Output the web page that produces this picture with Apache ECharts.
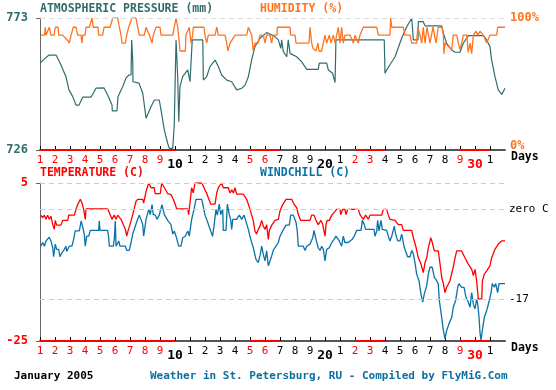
<!DOCTYPE html>
<html><head><meta charset="utf-8">
<script src="https://cdn.jsdelivr.net/npm/echarts@6/dist/echarts.min.js"></script>
<style>html,body{margin:0;padding:0;background:#fff}#c{width:556px;height:390px}</style>
</head><body><div id="c"></div>
<script>
// ---- data ----
const dayLabels = ['1','2','3','4','5','6','7','8','9','10','1','2','3','4','5','6','7','8','9','20','1','2','3','4','5','6','7','8','9','30','1'];
const holidays = [1,2,3,4,5,6,7,8,9,15,16,22,23,29,30];
const pressureRange = [726, 773];
const humidityRange = [0, 100];
const tempRange = [-25, 5];
const tempRefLines = [5, 0, -17];

const pressure = [[1.05,757.1],[1.2,758.0],[1.6,759.8],[2.07,759.8],[2.2,759.1],[2.4,756.3],[2.73,752.1],[2.93,747.4],[3.18,745.0],[3.4,742.0],[3.6,742.0],[3.85,744.8],[4.4,744.8],[4.73,748.0],[5.27,748.1],[5.51,745.6],[5.8,742.0],[5.82,739.9],[6.13,739.9],[6.2,745.0],[6.51,748.5],[6.73,751.6],[6.93,752.7],[7.07,752.7],[7.11,765.2],[7.18,758.0],[7.2,750.3],[7.6,749.8],[7.85,746.2],[8.07,737.3],[8.4,741.4],[8.62,743.8],[8.95,743.8],[9.07,740.2],[9.29,733.1],[9.51,728.4],[9.62,726.6],[9.85,726.6],[9.95,734.9],[10.07,765.2],[10.18,752.1],[10.25,736.1],[10.33,748.5],[10.51,752.1],[10.85,754.5],[11.0,750.3],[11.15,765.2],[11.85,765.2],[11.89,750.9],[12.11,752.1],[12.33,755.7],[12.67,758.0],[12.89,755.7],[13.11,752.7],[13.45,750.9],[13.78,750.3],[14.11,747.4],[14.45,748.0],[14.67,749.1],[14.89,752.1],[15.11,758.0],[15.33,762.8],[15.67,765.8],[16.11,767.8],[16.33,767.3],[16.67,766.3],[16.89,765.2],[17.05,762.2],[17.11,765.2],[17.22,761.0],[17.45,759.2],[17.55,765.2],[17.67,760.4],[18.11,759.2],[18.45,757.4],[18.78,754.7],[19.55,754.7],[19.62,756.9],[20.11,756.9],[20.22,754.5],[20.51,753.3],[20.67,750.0],[20.73,765.2],[23.95,765.2],[24.0,753.3],[24.11,754.5],[24.67,759.2],[25.11,765.8],[25.45,769.9],[25.78,772.9],[25.89,765.2],[26.2,765.2],[26.22,771.7],[26.55,771.7],[26.67,770.2],[27.78,770.2],[27.89,767.6],[28.11,764.0],[28.45,761.6],[28.67,760.8],[29.0,760.8],[29.22,764.0],[29.55,766.7],[30.55,766.7],[30.78,765.2],[31.0,762.8],[31.11,758.0],[31.33,752.1],[31.55,747.4],[31.78,745.8],[32.0,748.0]];

const humidity = [[1.05,87],[1.3,87],[1.35,93],[1.4,87],[1.62,93],[1.73,87],[1.93,87],[2.02,93],[2.2,93],[2.25,87],[2.51,87],[2.85,83],[2.95,81],[3.07,87],[3.22,93],[3.4,93],[3.51,87],[3.73,87],[3.8,81],[3.85,87],[4.0,87],[4.07,93],[4.29,93],[4.47,100],[4.55,93],[4.87,93],[4.91,87],[5.18,87],[5.27,93],[5.67,93],[5.85,100],[6.18,100],[6.29,93],[6.4,87],[6.47,81],[6.69,81],[6.78,87],[6.91,93],[7.13,100],[7.4,100],[7.51,93],[7.62,87],[7.95,87],[8.07,93],[8.29,87],[8.47,81],[8.55,87],[8.73,93],[9.0,93],[9.07,87],[9.85,87],[9.95,93],[10.07,100],[10.18,93],[10.29,81],[10.33,75],[10.69,75],[10.73,87],[10.95,93],[11.07,81],[11.18,87],[11.22,93],[11.93,93],[12.0,87],[12.11,81],[12.22,87],[12.67,87],[12.78,93],[12.89,87],[13.33,87],[13.45,81],[13.53,75],[13.67,81],[14.0,87],[14.78,87],[14.89,93],[15.11,87],[15.22,75],[15.33,81],[15.53,81],[15.67,87],[15.89,87],[16.0,81],[16.11,87],[16.33,87],[16.44,81],[16.55,87],[16.8,87],[16.82,93],[17.67,93],[17.71,87],[18.0,87],[18.07,81],[18.93,81],[19.0,93],[19.11,81],[19.2,77],[19.4,75],[19.53,81],[19.6,75],[19.78,75],[19.89,81],[20.0,87],[20.11,81],[20.29,87],[20.4,81],[20.55,87],[20.67,81],[20.78,87],[20.89,93],[21.0,81],[21.11,93],[21.22,81],[21.33,87],[21.67,87],[21.89,81],[22.0,87],[22.22,81],[22.33,87],[22.55,93],[23.45,93],[23.55,87],[24.33,87],[24.38,100],[24.45,93],[25.22,93],[25.33,87],[25.67,87],[25.78,81],[26.11,81],[26.18,93],[26.33,87],[26.45,81],[26.55,93],[26.67,81],[26.8,93],[27.0,81],[27.2,93],[27.4,81],[27.55,93],[27.8,93],[27.89,87],[27.93,73],[28.0,81],[28.11,81],[28.45,76],[28.55,87],[28.78,87],[28.89,81],[29.0,76],[29.11,81],[29.22,87],[29.45,87],[29.55,74],[29.67,81],[29.78,73],[29.89,87],[30.07,90],[30.2,87],[30.33,90],[30.55,87],[30.78,81],[31.0,87],[31.45,87],[31.51,93],[32.0,93]];

const temperature = [[1.05,-1.1],[1.18,-1.6],[1.29,-1.1],[1.4,-1.9],[1.51,-1.1],[1.62,-1.9],[1.73,-1.3],[1.85,-2.9],[1.95,-3.8],[2.02,-2.1],[2.11,-3.0],[2.4,-3.0],[2.51,-2.1],[2.85,-2.1],[2.91,-1.1],[3.29,-1.1],[3.4,0.0],[3.51,0.9],[3.69,1.9],[3.8,1.2],[3.91,0.0],[4.02,-1.9],[4.07,0.1],[5.51,0.1],[5.67,-1.0],[5.8,-1.9],[5.95,-1.1],[6.07,-1.9],[6.18,-1.1],[6.29,-1.1],[6.4,-1.9],[6.55,-2.9],[6.69,-3.8],[6.78,-5.1],[6.87,-4.1],[7.0,-2.9],[7.18,-1.0],[7.4,1.5],[7.51,1.9],[7.85,1.9],[7.91,1.2],[8.07,3.4],[8.25,5.0],[8.4,4.1],[8.62,4.1],[8.67,3.0],[9.02,3.0],[9.11,5.0],[9.29,4.1],[9.51,3.0],[9.73,2.8],[9.89,1.9],[10.02,0.9],[10.11,0.1],[10.85,0.1],[10.91,-1.0],[11.03,2.0],[11.11,4.1],[11.22,3.1],[11.33,5.0],[11.78,5.0],[11.89,4.4],[12.0,3.7],[12.11,3.1],[12.22,2.2],[12.38,1.0],[12.67,1.0],[12.78,3.1],[12.89,4.1],[13.11,5.0],[13.22,4.1],[13.55,4.1],[13.67,3.1],[13.78,3.7],[13.89,3.1],[14.0,4.1],[14.11,2.9],[14.55,2.9],[14.78,1.9],[15.0,0.0],[15.22,-2.2],[15.33,-4.1],[15.44,-4.7],[15.55,-3.8],[15.67,-3.2],[15.78,-2.1],[15.89,-3.2],[16.0,-3.8],[16.11,-2.9],[16.22,-5.7],[16.29,-4.0],[16.45,-3.0],[16.67,-2.1],[16.89,-1.9],[17.0,-0.3],[17.18,0.9],[17.4,1.9],[17.78,1.9],[17.93,1.0],[18.11,0.3],[18.22,-1.0],[18.38,-2.1],[19.0,-2.1],[19.11,-1.1],[19.27,-1.1],[19.4,-2.1],[19.55,-2.9],[19.73,-2.1],[19.85,-2.9],[20.0,-5.1],[20.07,-2.9],[20.15,-2.1],[20.29,-2.1],[20.45,-1.1],[20.78,0.0],[21.0,0.0],[21.05,-1.0],[21.18,0.0],[21.33,0.0],[21.4,-1.0],[21.51,0.0],[22.22,0.0],[22.33,-1.0],[22.55,-1.9],[22.71,-1.1],[22.89,-1.9],[23.0,-1.1],[23.78,-1.1],[23.89,0.0],[24.11,0.0],[24.22,-1.1],[24.33,-1.9],[24.67,-2.1],[24.89,-2.9],[25.11,-2.9],[25.22,-4.0],[25.78,-4.0],[25.89,-5.4],[26.05,-7.0],[26.22,-9.2],[26.4,-10.4],[26.55,-12.0],[26.67,-10.1],[26.78,-9.2],[26.89,-7.3],[27.05,-5.4],[27.15,-6.3],[27.29,-7.9],[27.55,-7.9],[27.67,-10.4],[27.78,-12.9],[27.89,-14.1],[28.0,-15.8],[28.11,-14.8],[28.33,-13.6],[28.55,-11.0],[28.67,-9.2],[28.78,-7.9],[29.11,-7.9],[29.33,-9.2],[29.55,-10.4],[29.78,-11.4],[29.89,-12.6],[30.0,-11.4],[30.11,-13.6],[30.22,-17.0],[30.45,-17.0],[30.49,-13.6],[30.62,-12.3],[30.78,-11.7],[31.0,-10.7],[31.11,-9.2],[31.33,-7.6],[31.55,-6.6],[31.78,-6.0],[32.0,-6.0]];

const windchill = [[1.05,-7.0],[1.18,-6.3],[1.29,-7.0],[1.4,-6.0],[1.51,-6.3],[1.62,-5.3],[1.73,-6.0],[1.85,-7.3],[1.91,-9.0],[2.02,-6.6],[2.11,-7.6],[2.25,-7.6],[2.33,-9.0],[2.47,-8.2],[2.62,-7.6],[2.73,-7.0],[2.78,-8.0],[2.95,-7.0],[3.13,-7.0],[3.22,-6.0],[3.35,-4.1],[3.62,-4.1],[3.75,-2.2],[3.85,-3.4],[3.95,-4.7],[4.02,-7.0],[4.11,-5.1],[4.25,-5.1],[4.35,-4.0],[4.91,-4.0],[4.95,-2.2],[5.0,-4.0],[5.51,-4.0],[5.58,-5.4],[5.62,-7.0],[5.89,-7.0],[5.95,-5.7],[6.02,-2.2],[6.07,-7.0],[6.25,-6.0],[6.33,-7.0],[6.69,-7.0],[6.78,-7.8],[6.95,-7.8],[7.07,-6.3],[7.18,-4.7],[7.35,-3.2],[7.51,-1.9],[7.62,-1.1],[7.73,-1.9],[7.85,-2.9],[7.91,-5.1],[8.07,-1.9],[8.25,0.0],[8.35,-1.0],[8.47,0.9],[8.55,-1.0],[8.69,-1.1],[8.8,-1.9],[8.95,-1.1],[9.13,0.9],[9.29,-1.0],[9.51,-2.1],[9.73,-2.9],[9.85,-4.7],[9.95,-4.1],[10.07,-5.1],[10.25,-7.0],[10.4,-7.0],[10.51,-5.4],[10.69,-5.1],[10.85,-4.1],[10.95,-5.1],[11.11,-1.9],[11.27,0.0],[11.4,1.9],[11.78,1.9],[11.85,1.0],[12.0,-1.1],[12.11,-1.9],[12.22,-2.1],[12.38,-4.1],[12.51,-5.1],[12.6,-3.2],[12.73,0.0],[12.82,-1.1],[12.95,1.0],[13.05,-1.0],[13.18,0.0],[13.22,-4.0],[13.4,-4.0],[13.49,1.0],[13.62,-1.0],[13.71,-1.9],[13.78,-3.8],[13.85,-1.9],[14.11,-1.9],[14.29,-1.1],[14.45,-1.9],[14.6,-1.1],[14.71,-2.1],[14.89,-3.8],[15.05,-5.7],[15.22,-7.3],[15.4,-9.5],[15.55,-10.1],[15.67,-8.8],[15.78,-7.0],[15.89,-8.6],[16.0,-9.8],[16.11,-7.9],[16.22,-10.7],[16.33,-9.8],[16.45,-8.8],[16.55,-7.8],[16.73,-7.0],[16.89,-6.3],[17.0,-5.1],[17.18,-4.1],[17.4,-3.0],[17.62,-3.0],[17.71,-1.1],[17.89,-1.1],[18.07,-2.5],[18.15,-4.1],[18.22,-7.0],[18.55,-7.0],[18.67,-7.8],[18.78,-7.0],[19.0,-6.6],[19.18,-5.4],[19.27,-4.0],[19.4,-5.7],[19.55,-7.3],[19.67,-7.8],[19.78,-7.0],[19.89,-7.6],[20.0,-9.8],[20.11,-7.6],[20.29,-7.3],[20.45,-6.3],[20.6,-5.7],[20.73,-5.1],[20.95,-6.0],[21.11,-7.0],[21.22,-5.1],[21.33,-6.3],[21.55,-6.3],[21.67,-6.0],[21.82,-5.7],[21.95,-5.1],[22.11,-4.0],[22.4,-4.0],[22.49,-2.1],[22.62,-2.9],[22.71,-3.8],[23.27,-3.8],[23.33,-5.1],[23.45,-4.1],[23.51,-2.1],[23.6,-4.1],[23.73,-2.1],[23.82,-3.8],[24.11,-4.0],[24.22,-5.1],[24.33,-6.0],[24.45,-5.1],[24.62,-3.2],[24.71,-4.7],[24.85,-6.0],[25.0,-6.0],[25.11,-4.7],[25.2,-6.0],[25.29,-7.3],[25.38,-7.6],[25.51,-9.0],[25.67,-9.0],[25.78,-7.8],[25.89,-8.5],[26.0,-10.1],[26.11,-12.3],[26.27,-13.6],[26.4,-16.1],[26.51,-17.6],[26.62,-16.1],[26.78,-14.5],[26.89,-12.3],[27.0,-11.0],[27.15,-11.0],[27.29,-12.9],[27.45,-13.6],[27.55,-14.1],[27.62,-17.3],[27.78,-20.5],[27.89,-23.0],[28.0,-24.6],[28.11,-23.0],[28.27,-21.7],[28.45,-20.5],[28.55,-18.6],[28.71,-17.3],[28.85,-14.8],[28.93,-14.1],[29.11,-14.8],[29.27,-14.8],[29.4,-16.7],[29.55,-17.6],[29.67,-18.6],[29.78,-15.8],[29.89,-18.0],[30.0,-18.9],[30.11,-17.0],[30.18,-18.0],[30.27,-20.5],[30.33,-23.3],[30.4,-24.9],[30.49,-23.0],[30.62,-20.5],[30.78,-19.2],[30.93,-17.6],[31.07,-15.8],[31.15,-14.1],[31.29,-14.8],[31.38,-14.1],[31.51,-15.8],[31.6,-14.1],[32.0,-14.1]];

// ---- build ----
const MONO = '"DejaVu Sans Mono", monospace';
const C_PRES = '#2f6d6d', C_HUM = '#ff7420', C_TEMP = '#ff0000', C_WIND = '#0a72a8';
const days = dayLabels.map((_, i) => i + 1);

// contiguous holiday runs -> red axis segments
const runs = [];
holidays.forEach(d => {
  const last = runs[runs.length - 1];
  if (last && last[1] === d) last[1] = d + 1; else runs.push([d, d + 1]);
});

function xAxisFor(grid) {
  return {
    gridIndex: grid, type: 'value', min: 1, max: 32, interval: 1,
    axisLine: { show: true, onZero: false, lineStyle: { color: '#555', width: 2 } },
    axisTick: { show: true, inside: true, length: 4, customValues: days, lineStyle: { color: '#000' } },
    splitLine: { show: false },
    axisLabel: {
      show: true, margin: 5, customValues: days,
      formatter: v => {
        const lbl = dayLabels[v - 1];
        if (lbl === undefined) return '';
        const hol = holidays.includes(v);
        const big = v % 10 === 0;
        return '{' + (hol ? 'r' : 'k') + (big ? 'b' : '') + '|' + lbl + '}';
      },
      rich: {
        r: { color: '#ff0000', fontFamily: MONO, fontSize: 11 },
        k: { color: '#000', fontFamily: MONO, fontSize: 11 },
        rb: { color: '#ff0000', fontFamily: MONO, fontSize: 13, fontWeight: 'bold', padding: [3, 0, 0, 0] },
        kb: { color: '#000', fontFamily: MONO, fontSize: 13, fontWeight: 'bold', padding: [3, 0, 0, 0] }
      }
    }
  };
}

function segMarks(yv) {
  return runs.map(([s, e]) => [{ coord: [s, yv] }, { coord: [e, yv] }]);
}

const lineBase = { type: 'line', showSymbol: false, symbol: 'none', animation: false, silent: true };

const option = {
  animation: false,
  backgroundColor: '#fff',
  grid: [
    { left: 40, top: 18, width: 465, height: 132 },
    { left: 40, top: 183, width: 465, height: 158 }
  ],
  xAxis: [xAxisFor(0), xAxisFor(1)],
  yAxis: [
    { gridIndex: 0, type: 'value', min: pressureRange[0], max: pressureRange[1], interval: pressureRange[1] - pressureRange[0],
      axisLine: { show: true, lineStyle: { color: '#666', width: 1 } },
      axisTick: { show: true, length: 4, lineStyle: { color: '#666' } },
      splitLine: { show: false },
      axisLabel: { margin: 12, color: C_PRES, fontFamily: MONO, fontWeight: 'bold', fontSize: 12 } },
    { gridIndex: 0, type: 'value', position: 'right', min: humidityRange[0], max: humidityRange[1], interval: 100,
      axisLine: { show: false }, axisTick: { show: false }, splitLine: { show: false },
      axisLabel: { margin: 5, color: C_HUM, fontFamily: MONO, fontWeight: 'bold', fontSize: 12,
        formatter: v => v === 0 ? '{lo|0%}' : v + '%',
        rich: { lo: { color: C_HUM, fontFamily: MONO, fontWeight: 'bold', fontSize: 12, padding: [0, 0, 9, 0] } } } },
    { gridIndex: 1, type: 'value', min: tempRange[0], max: tempRange[1], interval: tempRange[1] - tempRange[0],
      axisLine: { show: true, lineStyle: { color: '#666', width: 1 } },
      axisTick: { show: true, length: 4, lineStyle: { color: '#666' } },
      splitLine: { show: false },
      axisLabel: { margin: 12, color: '#ff0000', fontFamily: MONO, fontWeight: 'bold', fontSize: 12 } }
  ],
  series: [
    Object.assign({}, lineBase, {
      name: 'pressure', xAxisIndex: 0, yAxisIndex: 0, data: pressure, z: 3,
      lineStyle: { color: C_PRES, width: 1.2 },
      markLine: { silent: true, symbol: ['none', 'none'], animation: false,
        data: [[{ coord: [1, pressureRange[1]], lineStyle: { color: '#ddd', type: [5, 4], width: 1 } }, { coord: [32, pressureRange[1]] }]]
          .concat(segMarks(pressureRange[0])),
        lineStyle: { color: '#ff0000', width: 2, type: 'solid' }, label: { show: false } }
    }),
    Object.assign({}, lineBase, {
      name: 'humidity', xAxisIndex: 0, yAxisIndex: 1, data: humidity, z: 4,
      lineStyle: { color: C_HUM, width: 1.3 }
    }),
    Object.assign({}, lineBase, {
      name: 'temperature', xAxisIndex: 1, yAxisIndex: 2, data: temperature, z: 4,
      lineStyle: { color: C_TEMP, width: 1.3 },
      markLine: { silent: true, symbol: ['none', 'none'], animation: false,
        data: tempRefLines.map(v => [
          { coord: [1, v], lineStyle: { color: '#ccc', type: [5, 4], width: 1 },
            label: { show: v !== tempRange[1], position: 'end', distance: 4, color: '#000', fontFamily: MONO, fontSize: 11,
              formatter: v === 0 ? 'zero C' : String(v) } },
          { coord: [32, v] }
        ]).concat(segMarks(tempRange[0])),
        lineStyle: { color: '#ff0000', width: 2, type: 'solid' }, label: { show: false } }
    }),
    Object.assign({}, lineBase, {
      name: 'windchill', xAxisIndex: 1, yAxisIndex: 2, data: windchill, z: 3,
      lineStyle: { color: C_WIND, width: 1.3 }
    })
  ],
  graphic: [
    { type: 'text', left: 40, top: 3, style: { text: 'ATMOSPHERIC PRESSURE (mm)', fill: C_PRES, font: 'bold 11.5px ' + MONO } },
    { type: 'text', left: 260, top: 3, style: { text: 'HUMIDITY (%)', fill: C_HUM, font: 'bold 11.5px ' + MONO } },
    { type: 'text', left: 511, top: 151, style: { text: 'Days', fill: '#000', font: 'bold 11.5px ' + MONO } },
    { type: 'text', left: 40, top: 167, style: { text: 'TEMPERATURE (C)', fill: '#ff0000', font: 'bold 11.5px ' + MONO } },
    { type: 'text', left: 260, top: 167, style: { text: 'WINDCHILL (C)', fill: C_WIND, font: 'bold 11.5px ' + MONO } },
    { type: 'text', left: 511, top: 342, style: { text: 'Days', fill: '#000', font: 'bold 11.5px ' + MONO } },
    { type: 'text', left: 14, top: 371, style: { text: 'January 2005', fill: '#000', font: 'bold 11px ' + MONO } },
    { type: 'text', left: 150, top: 371, style: { text: 'Weather in St. Petersburg, RU - Compiled by FlyMiG.Com', fill: '#0a6fa0', font: 'bold 11px ' + MONO } }
  ]
};

const chart = echarts.init(document.getElementById('c'), null, { renderer: 'canvas' });
chart.setOption(option);
</script>
</body></html>
